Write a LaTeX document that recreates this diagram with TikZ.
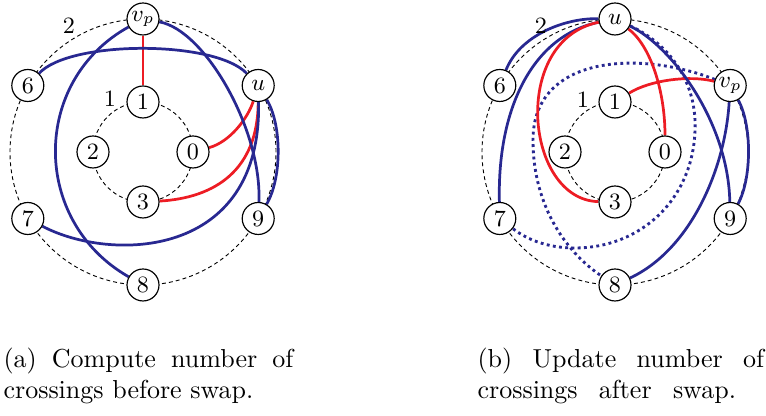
\documentclass[tikz,border=0pt]{standalone}
\pgfdeclarelayer{bg}
\pgfsetlayers{bg,main}
\definecolor{eblue}{RGB}{40,40,145}
\definecolor{ered}{RGB}{237,28,36}
\tikzset{
  vtx/.style={circle,draw,line width=0.45pt,fill=white,minimum size=12.3pt,inner sep=0pt,font=\fontsize{9}{10}\selectfont},
  ring/.style={draw,dash pattern=on 1.5pt off 1.2pt,line width=0.35pt},
  be/.style={draw=eblue,line width=1.05pt},
  re/.style={draw=ered,line width=1.05pt},
  bd/.style={draw=eblue,line width=1.1pt,dash pattern=on 1.1pt off 1.3pt},
  lab/.style={font=\fontsize{9}{10}\selectfont,inner sep=0pt},
  captxt/.style={anchor=north west,inner sep=0pt,align=left,font=\fontsize{10}{12}\selectfont}
}
\begin{document}
\begin{tikzpicture}[x=0.3846pt,y=-0.3846pt]
\useasboundingbox (0,0) rectangle (766,416);
% ---------- (a) ----------
\coordinate (cL) at (143,152);
\node[vtx] (avp) at (143,19) {$v_p$};
\node[vtx] (au) at (258.2,85.5) {$u$};
\node[vtx] (a9) at (258.2,218.5) {9};
\node[vtx] (a8) at (143,285) {8};
\node[vtx] (a7) at (27.8,218.5) {7};
\node[vtx] (a6) at (27.8,85.5) {6};
\node[vtx] (a1) at (143,102) {1};
\node[vtx] (a0) at (193,152) {0};
\node[vtx] (a2) at (93,152) {2};
\node[vtx] (a3) at (143,202) {3};
\node[lab] (aL2) at (69,26) {2};
\node[lab] (aL1) at (110,99) {1};
% ---------- (b) ----------
\coordinate (cR) at (615,152);
\node[vtx] (bu) at (615,19) {$u$};
\node[vtx] (bvp) at (730.2,85.5) {$v_p$};
\node[vtx] (b9) at (730.2,218.5) {9};
\node[vtx] (b8) at (615,285) {8};
\node[vtx] (b7) at (499.8,218.5) {7};
\node[vtx] (b6) at (499.8,85.5) {6};
\node[vtx] (b1) at (615,102) {1};
\node[vtx] (b0) at (665,152) {0};
\node[vtx] (b2) at (565,152) {2};
\node[vtx] (b3) at (615,202) {3};
\node[lab] (bL2) at (541,26) {2};
\node[lab] (bL1) at (583,100) {1};
% captions
\node[captxt] (capa) at (3,347.5) {\makebox[111.5pt][s]{(a) Compute number of}\\crossings before swap.};
\node[captxt] (capb) at (477,347.5) {\makebox[110.2pt][s]{(b) Update number of}\\\makebox[99.4pt][s]{crossings after swap.}};
\begin{pgfonlayer}{bg}
\draw[ring] (cL) circle[radius=51.15pt];
\draw[ring] (cL) circle[radius=19.23pt];
\draw[ring] (cR) circle[radius=51.15pt];
\draw[ring] (cR) circle[radius=19.23pt];
% (a) edges
\draw[re] (avp) -- (a1);
\draw[re] (au) .. controls (248,118) and (230,142) .. (a0);
\draw[re] (au) .. controls (258,170) and (215,198) .. (a3);
\draw[be] (a6) .. controls (70,40) and (215,40) .. (au);
\draw[be] (avp) .. controls (205,30) and (262,130) .. (a9);
\draw[be] (avp) .. controls (31,81) and (31,221) .. (a8);
\draw[be] (au) .. controls (262,260) and (110,262) .. (a7);
\draw[be] (au) .. controls (282,125) and (282,178) .. (a9);
% (b) edges
\draw[bd] (bu) .. controls (672,45) and (697,85) .. (695,130) .. controls (693,200) and (640,248) .. (575,248) .. controls (545,248) and (525,238) .. (b7);
\draw[bd] (bvp) .. controls (640,50) and (533,55) .. (533,140) .. controls (533,210) and (570,255) .. (b8);
\draw[be] (bu) .. controls (565,18) and (520,35) .. (b6);
\draw[be] (bu) .. controls (535,35) and (497,105) .. (b7);
\draw[re] (bu) .. controls (510,40) and (525,200) .. (b3);
\draw[re] (bu) .. controls (650,45) and (665,90) .. (b0);
\draw[re] (b1) .. controls (650,80) and (690,75) .. (bvp);
\draw[be] (bu) .. controls (670,45) and (728,120) .. (b9);
\draw[be] (bvp) .. controls (725,170) and (690,250) .. (b8);
\draw[be] (bvp) .. controls (752,125) and (752,178) .. (b9);
\end{pgfonlayer}
\end{tikzpicture}
\end{document}
